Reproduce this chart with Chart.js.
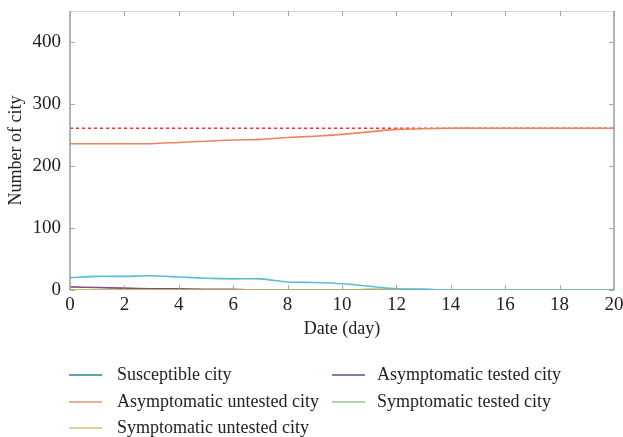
<!DOCTYPE html>
<html>
<head>
<meta charset="utf-8">
<title>Number of city</title>
<script src="https://cdn.jsdelivr.net/npm/chart.js@4.4.0/dist/chart.umd.min.js"></script>
<style>
  html, body { margin: 0; padding: 0; background: #fff; }
  canvas { display: block; }
</style>
</head>
<body>
<canvas id="chart" width="623" height="437"></canvas>
<script>
// Data
const days = [0, 1, 2, 3, 4, 5, 6, 7, 8, 9, 10, 11, 12, 13, 14, 15, 16, 17, 18, 19, 20];
const susceptible = [20, 22, 22, 23, 21, 19, 18, 18, 13, 12, 10, 6, 2, 1, 0, 0, 0, 0, 0, 0, 0];
const asymUntested = [236, 236, 236, 236, 238, 240, 242, 243, 246, 248, 251, 255, 259, 260, 261, 261, 261, 261, 261, 261, 261];
const symUntested = [0, 0, 0, 0, 0, 0, 0, 0, 0, 0, 0, 0, 0, 0, 0, 0, 0, 0, 0, 0, 0];
const asymTested = [5, 4, 3, 2, 2, 1, 1, 0, 0, 0, 0, 0, 0, 0, 0, 0, 0, 0, 0, 0, 0];
const symTested = [0, 0, 0, 0, 0, 0, 0, 0, 0, 0, 0, 1, 1, 1, 0, 0, 0, 0, 0, 0, 0];
const totalCity = [261, 261, 261, 261, 261, 261, 261, 261, 261, 261, 261, 261, 261, 261, 261, 261, 261, 261, 261, 261, 261];

const FONT = '"Liberation Serif", "DejaVu Serif", serif';

const toPoints = (arr) => arr.map((v, i) => ({ x: days[i], y: v }));

// legend swatches differ slightly from the plotted line colours in the figure
const series = [
    { label: 'Susceptible city', data: susceptible, color: '#5bbcd8', legend: '#2f7f9f' },
    { label: 'Asymptomatic untested city', data: asymUntested, color: '#ea8659', legend: '#e8907a' },
    { label: 'Symptomatic untested city', data: symUntested, color: '#c9c25a', legend: '#d8c070' },
    { label: 'Asymptomatic tested city', data: asymTested, color: '#8a4a86', legend: '#6b4a7b' },
    { label: 'Symptomatic tested city', data: symTested, color: '#6fb27a', legend: '#9cc49a' }
];

const datasets = series.map(s => ({
    label: s.label,
    data: toPoints(s.data),
    borderColor: s.color,
    legendColor: s.legend,
    borderWidth: 1.6,
    pointRadius: 0,
    tension: 0.25,
    fill: false
}));

datasets.push({
    label: 'Total',
    data: toPoints(totalCity),
    borderColor: '#e8323c',
    borderWidth: 1.6,
    borderDash: [3, 3],
    pointRadius: 0,
    fill: false,
    hideInLegend: true
});

/**
 * Box frame with inward ticks on all four sides
 */
const framePlugin = {
    id: 'frame',
    afterDatasetsDraw(chart) {
        const { ctx, chartArea: a, scales } = chart;
        ctx.save();
        ctx.lineWidth = 1;
        ctx.strokeStyle = '#d6d6d6';
        ctx.beginPath();
        ctx.moveTo(a.left, a.top + 0.5);
        ctx.lineTo(a.right, a.top + 0.5);
        ctx.stroke();

        ctx.strokeStyle = '#9a9a9a';
        ctx.lineWidth = 1.5;
        ctx.beginPath();
        ctx.moveTo(a.left, a.top);
        ctx.lineTo(a.left, a.bottom);
        ctx.moveTo(a.right, a.top);
        ctx.lineTo(a.right, a.bottom);
        ctx.stroke();

        ctx.lineWidth = 1;
        ctx.strokeStyle = '#a8a8a8';
        const len = 5;
        ctx.beginPath();
        scales.x.ticks.forEach(t => {
            const px = Math.round(scales.x.getPixelForValue(t.value)) + 0.5;
            ctx.moveTo(px, a.bottom);
            ctx.lineTo(px, a.bottom - len);
            ctx.moveTo(px, a.top);
            ctx.lineTo(px, a.top + len);
        });
        scales.y.ticks.forEach(t => {
            const py = Math.round(scales.y.getPixelForValue(t.value)) + 0.5;
            ctx.moveTo(a.left, py);
            ctx.lineTo(a.left + len, py);
            ctx.moveTo(a.right, py);
            ctx.lineTo(a.right - len, py);
        });
        ctx.stroke();
        ctx.restore();
    }
};

/**
 * Two-column legend under the x axis title
 */
const legendPlugin = {
    id: 'columnLegend',
    afterDraw(chart) {
        const { ctx } = chart;
        const items = chart.data.datasets.filter(d => !d.hideInLegend);
        const cols = [{ line: 69, text: 117 }, { line: 332, text: 377 }];
        const rowY = [375, 402, 428];
        ctx.save();
        ctx.font = '18px ' + FONT;
        ctx.textBaseline = 'middle';
        ctx.fillStyle = '#222';
        items.forEach((d, i) => {
            const col = cols[i < 3 ? 0 : 1];
            const y = rowY[i < 3 ? i : i - 3];
            ctx.strokeStyle = d.legendColor || d.borderColor;
            ctx.lineWidth = 1.6;
            ctx.beginPath();
            ctx.moveTo(col.line, y);
            ctx.lineTo(col.line + 33, y);
            ctx.stroke();
            ctx.fillText(d.label, col.text, y);
        });
        ctx.restore();
    }
};

new Chart(document.getElementById('chart'), {
    type: 'line',
    data: { datasets },
    options: {
        responsive: false,
        animation: false,
        devicePixelRatio: 1,
        layout: { padding: { top: 11, right: 9, bottom: 97, left: 5 } },
        plugins: {
            legend: { display: false },
            tooltip: { enabled: false }
        },
        scales: {
            x: {
                type: 'linear',
                min: 0,
                max: 20,
                grid: { display: false, drawTicks: false },
                border: { display: false },
                ticks: {
                    stepSize: 2,
                    color: '#222',
                    padding: 4,
                    maxRotation: 0,
                    font: { family: FONT, size: 19 }
                },
                title: {
                    display: true,
                    text: 'Date (day)',
                    color: '#222',
                    padding: { top: 0, bottom: 0 },
                    font: { family: FONT, size: 18 }
                },
                afterFit(scale) {
                    scale.height = 50;
                    scale.paddingLeft = 0;
                    scale.paddingRight = 0;
                }
            },
            y: {
                min: 0,
                max: 450,
                grid: { display: false, drawTicks: false },
                border: { display: false },
                ticks: {
                    stepSize: 100,
                    includeBounds: false,
                    color: '#222',
                    padding: 9,
                    font: { family: FONT, size: 19 }
                },
                title: {
                    display: true,
                    text: 'Number of city',
                    color: '#222',
                    padding: { top: 0, bottom: 2 },
                    font: { family: FONT, size: 18 }
                },
                afterFit(scale) {
                    scale.width = 65;
                    scale.paddingTop = 0;
                    scale.paddingBottom = 0;
                }
            }
        }
    },
    plugins: [framePlugin, legendPlugin]
});
</script>
</body>
</html>
